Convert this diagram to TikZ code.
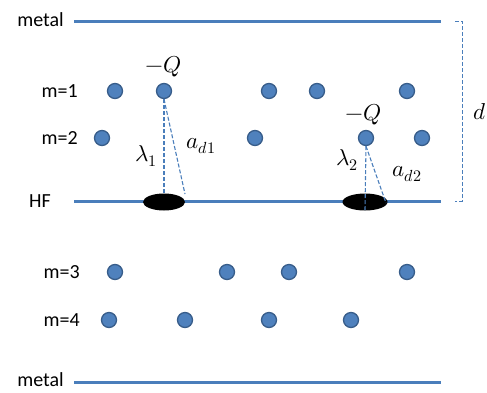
\documentclass[tikz,border=0pt]{standalone}
\usepackage{fontspec}
\usepackage{unicode-math}
\setmainfont{Carlito}
\setmathfont{Latin Modern Math}
\usetikzlibrary{shapes.geometric}
\definecolor{lineblue}{HTML}{4A7EBB}
\definecolor{dotfill}{HTML}{4F81BD}
\definecolor{dotedge}{HTML}{385D8A}
\begin{document}
\begin{tikzpicture}[x=1pt,y=-1pt,
  layer/.style={draw=lineblue,line width=3pt},
  atom/.style={circle,fill=dotfill,draw=dotedge,line width=1.3pt,minimum size=15pt,inner sep=0pt},
  lbl/.style={font=\fontsize{20}{24}\selectfont,inner sep=0pt},
  mlbl/.style={font=\fontsize{23}{27}\selectfont,inner sep=0pt},
  dashln/.style={draw=lineblue,line width=1.1pt,dash pattern=on 4pt off 2pt},
  blob/.style={ellipse,fill=black,inner sep=0pt}]
\useasboundingbox (0,0) rectangle (487,392);
% layers
\coordinate (t1) at (74,21); \coordinate (t2) at (441,21);
\coordinate (h1) at (74,201); \coordinate (h2) at (441,201);
\coordinate (b1) at (74,382); \coordinate (b2) at (441,382);
\draw[layer] (t1) -- (t2);
\draw[layer] (h1) -- (h2);
\draw[layer] (b1) -- (b2);
% labels
\node[lbl,anchor=east] (metalT) at (64,20) {metal};
\node[lbl,anchor=east] (m1) at (78,91) {m=1};
\node[lbl,anchor=east] (m2) at (78,138) {m=2};
\node[lbl,anchor=east] (hf) at (51,201) {HF};
\node[lbl,anchor=east] (m3) at (80,272) {m=3};
\node[lbl,anchor=east] (m4) at (80,320) {m=4};
\node[lbl,anchor=east] (metalB) at (64,380) {metal};
% atoms
\foreach \x/\n in {115/a, 164/b, 269/c, 317/d, 407/e} \node[atom] (r1\n) at (\x,91) {};
\foreach \x/\n in {102/a, 255/b, 366/c, 422/d} \node[atom] (r2\n) at (\x,138) {};
\foreach \x/\n in {115/a, 227/b, 289/c, 407/d} \node[atom] (r3\n) at (\x,272) {};
\foreach \x/\n in {109/a, 185/b, 269/c, 351/d} \node[atom] (r4\n) at (\x,320) {};
% blobs
\node[blob,minimum width=42pt,minimum height=17pt] (e1) at (164,202) {};
\node[blob,minimum width=45pt,minimum height=17pt] (e2) at (365,202) {};
% dashed
\coordinate (p1) at (164,194);
\coordinate (q1) at (185,194);
\coordinate (p2) at (365,210);
\coordinate (q2) at (386,203);
\draw[dashln] (r1b.south) -- (p1);
\draw[dashln] (r1b.south) -- (q1);
\draw[dashln] (r2c.south) -- (p2);
\draw[dashln] (r2c.south) -- (q2);
% math labels
\node[mlbl] (Q1) at (164,67) {$-Q$};
\node[mlbl] (l1) at (146,156) {$\lambda_1$};
\node[mlbl] (ad1) at (201,146) {$a_{d1}$};
\node[mlbl] (Q2) at (364,115) {$-Q$};
\node[mlbl] (l2) at (347,160) {$\lambda_2$};
\node[mlbl] (ad2) at (407,174) {$a_{d2}$};
% bracket
\coordinate (k1) at (455,21); \coordinate (k2) at (462,21);
\coordinate (k3) at (462,201); \coordinate (k4) at (455,201);
\draw[dashln,line width=0.9pt] (k1) -- (k2) -- (k3) -- (k4);
\node[mlbl] (dlab) at (480,112) {$d$};
\end{tikzpicture}
\end{document}
